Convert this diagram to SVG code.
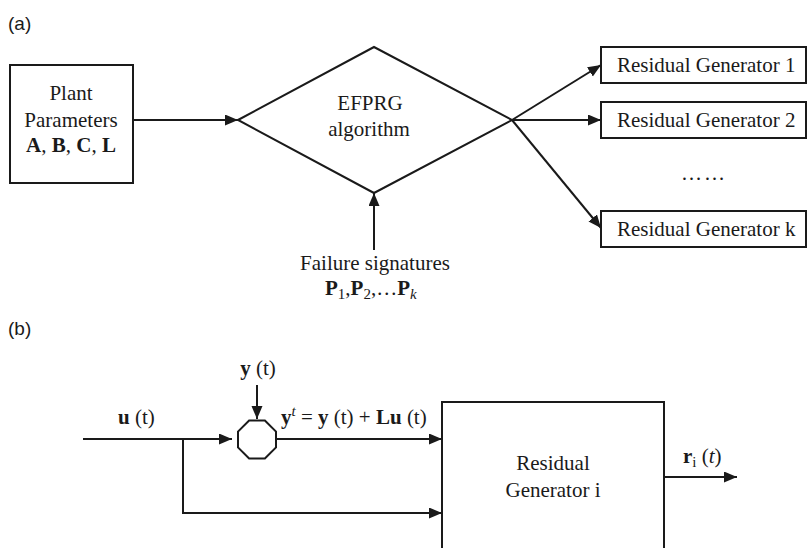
<svg xmlns="http://www.w3.org/2000/svg" width="808" height="548" viewBox="0 0 808 548">
<defs>
<style>
.ln{fill:none;stroke:#1a1a1a;stroke-width:2}
.bx{fill:#fff;stroke:#1a1a1a;stroke-width:2}
.t{font-family:"Liberation Serif","Times New Roman",serif;font-size:21px;fill:#1a1a1a}
.lab{font-family:"Liberation Sans",Arial,sans-serif;font-size:19px;fill:#1a1a1a}
.b{font-weight:bold}
.i{font-style:italic}
</style>
<marker id="ah" markerUnits="userSpaceOnUse" markerWidth="14" markerHeight="12" refX="13" refY="5.5" orient="auto">
<path d="M0,0 L13,5.5 L0,11 Z" fill="#1a1a1a"/>
</marker>
</defs>
<rect width="808" height="548" fill="#fff"/>
<text class="lab" x="8" y="30">(a)</text>
<text class="lab" x="8" y="335">(b)</text>

<g id="connectors">
<line class="ln" x1="133" y1="120" x2="238" y2="120" marker-end="url(#ah)"/>
<line class="ln" x1="374" y1="250" x2="374" y2="193" marker-end="url(#ah)"/>
<line class="ln" x1="512" y1="120" x2="601" y2="65" marker-end="url(#ah)"/>
<line class="ln" x1="512" y1="120" x2="601" y2="120" marker-end="url(#ah)"/>
<line class="ln" x1="512" y1="120" x2="601" y2="228" marker-end="url(#ah)"/>
<line class="ln" x1="83" y1="439" x2="232" y2="439" marker-end="url(#ah)"/>
<polyline class="ln" points="183,439 183,513 442,513" marker-end="url(#ah)"/>
<line class="ln" x1="257" y1="385" x2="257" y2="419" marker-end="url(#ah)"/>
<line class="ln" x1="276" y1="439" x2="442" y2="439" marker-end="url(#ah)"/>
<line class="ln" x1="664" y1="477" x2="737" y2="477" marker-end="url(#ah)"/>
</g>

<g id="plant">
<rect class="bx" x="10" y="65" width="123" height="118"/>
<text class="t" x="71" y="100" text-anchor="middle">Plant</text>
<text class="t" x="71" y="127" text-anchor="middle">Parameters</text>
<text class="t" x="71" y="152" text-anchor="middle"><tspan class="b">A</tspan>, <tspan class="b">B</tspan>, <tspan class="b">C</tspan>, <tspan class="b">L</tspan></text>
</g>

<g id="efprg">
<polygon class="bx" points="238,120 374,47 512,120 374,193"/>
<text class="t" x="370" y="110" text-anchor="middle">EFPRG</text>
<text class="t" x="369" y="136" text-anchor="middle">algorithm</text>
</g>

<g id="signatures">
<text class="t" x="375" y="270" text-anchor="middle">Failure signatures</text>
<text class="t" x="325" y="295"><tspan class="b">P</tspan><tspan font-size="15" dy="4">1</tspan><tspan dy="-4">,</tspan><tspan class="b">P</tspan><tspan font-size="15" dy="4">2</tspan><tspan dy="-4">,…</tspan><tspan class="b">P</tspan><tspan class="i" font-size="15" dy="4">k</tspan></text>
</g>

<g id="rg1">
<rect class="bx" x="601" y="47" width="205" height="36"/>
<text class="t" x="617" y="72">Residual Generator 1</text>
</g>
<g id="rg2">
<rect class="bx" x="601" y="102" width="205" height="36"/>
<text class="t" x="617" y="127">Residual Generator 2</text>
</g>
<text class="t" x="704" y="180" text-anchor="middle" letter-spacing="2">……</text>
<g id="rgk">
<rect class="bx" x="601" y="211" width="205" height="36"/>
<text class="t" x="617" y="236">Residual Generator k</text>
</g>

<g id="sum">
<polygon class="bx" points="249.1,420.5 264.9,420.5 276,431.6 276,447.4 264.9,458.5 249.1,458.5 238,447.4 238,431.6"/>
</g>
<text class="t" x="258" y="375" text-anchor="middle"><tspan class="b">y</tspan> (t)</text>
<text class="t" x="118" y="424"><tspan class="b">u</tspan> (t)</text>
<text class="t" x="281" y="424"><tspan class="b">y</tspan><tspan class="i" font-size="15" dy="-8">t</tspan><tspan dy="8"> = </tspan><tspan class="b">y</tspan> (t) + <tspan class="b">Lu</tspan> (t)</text>

<g id="rgi">
<rect class="bx" x="442" y="402" width="222" height="160"/>
<text class="t" x="553" y="470" text-anchor="middle">Residual</text>
<text class="t" x="553" y="497" text-anchor="middle">Generator i</text>
</g>
<text class="t" x="683" y="463"><tspan class="b">r</tspan><tspan font-size="15" dy="4">i</tspan><tspan dy="-4"> (</tspan><tspan class="i">t</tspan>)</text>
</svg>
